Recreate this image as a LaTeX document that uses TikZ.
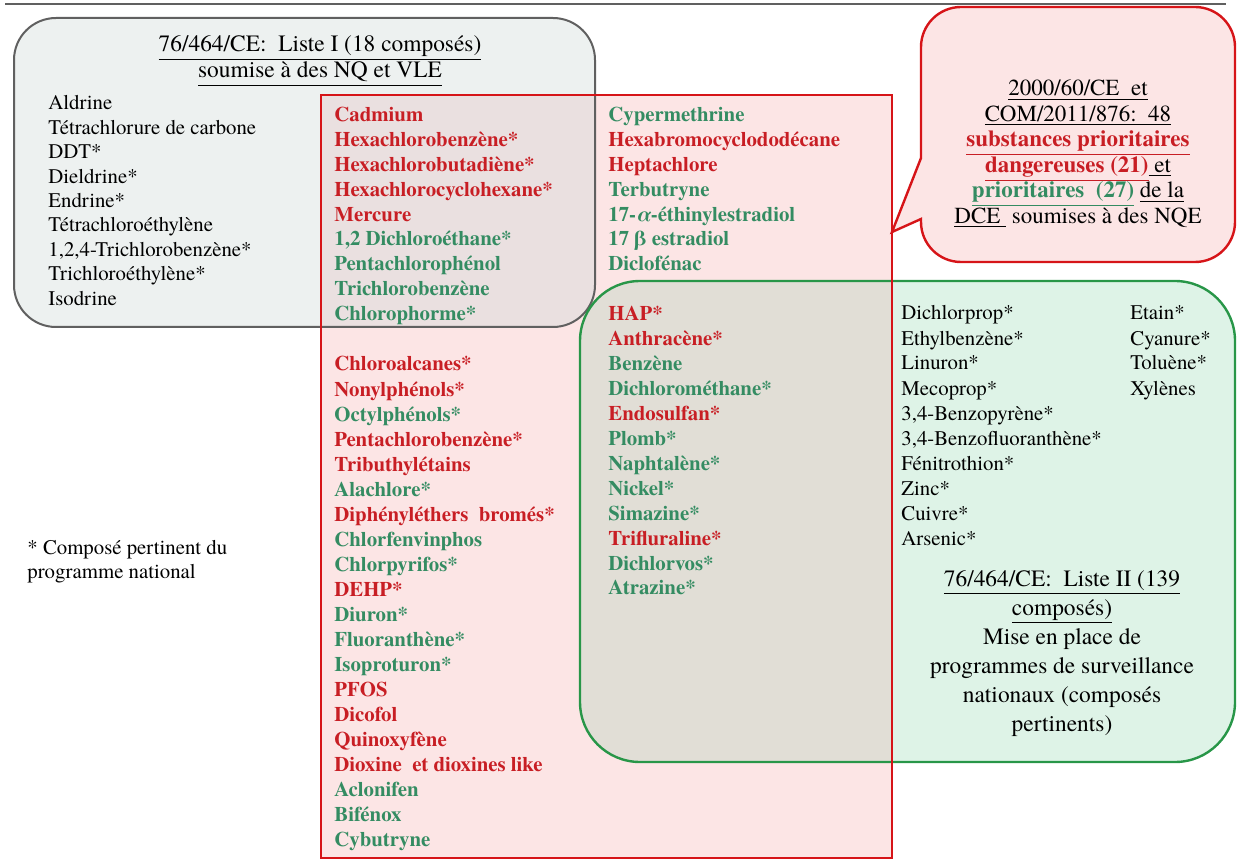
\documentclass[tikz,border=0pt]{standalone}
\usepackage{fontspec}
\setmainfont{texgyretermes}[Extension=.otf, UprightFont=*-regular, BoldFont=*-bold, ItalicFont=*-italic, BoldItalicFont=*-bolditalic]

\definecolor{redtxt}{RGB}{200,30,36}
\definecolor{grntxt}{RGB}{52,140,98}
\definecolor{redline}{RGB}{214,20,24}
\definecolor{grnline}{RGB}{40,150,72}
\definecolor{grayline}{RGB}{96,96,96}
\definecolor{grayfill}{RGB}{237,241,240}
\definecolor{redfill}{RGB}{252,229,229}
\definecolor{grnfill}{RGB}{222,243,231}
\definecolor{grayred}{RGB}{234,224,224}
\definecolor{redgrn}{RGB}{225,222,214}

\tikzset{
  lst/.style={anchor=base west, inner sep=0pt, font=\fontsize{10.4}{12}\selectfont},
  bld/.style={lst, font=\fontsize{10.4}{12}\selectfont\bfseries},
  rtx/.style={bld, text=redtxt},
  gtx/.style={bld, text=grntxt},
  ttl/.style={anchor=base, inner sep=0pt, font=\fontsize{11.7}{14}\selectfont},
  cll/.style={anchor=base, inner sep=0pt, font=\fontsize{11.5}{14}\selectfont},
}

\begin{document}
\begin{tikzpicture}[x=0.5pt, y=-0.5pt]
    \useasboundingbox (0,0) rectangle (1237,861) ;
    \draw [grayline, line width=1pt] (5,4) -- (1226,4) ;

    % fills
    \fill [grayfill, rounded corners=21pt] (14,18) rectangle (595,327) ;
    \fill [grnfill, rounded corners=30pt] (580,281) rectangle (1235,762) ;
    \fill [redfill] (321,95) rectangle (892,858) ;
    \begin{scope}
        \clip (321,95) rectangle (892,858) ;
        \fill [grayred, rounded corners=21pt] (14,18) rectangle (595,327) ;
        \fill [redgrn, rounded corners=30pt] (580,281) rectangle (1235,762) ;
    \end{scope}

    % outlines
    \draw [grayline, line width=1pt, rounded corners=21pt] (14,18) rectangle (595,327) ;
    \draw [grnline, line width=1.2pt, rounded corners=30pt] (580,281) rectangle (1235,762) ;
    \draw [redline, line width=1.2pt] (321,95) rectangle (892,858) ;
    \filldraw [redline, fill=redfill, line width=1.2pt] (921,158) [rounded corners=20pt] -- (921,7) -- (1235,7) -- (1235,262) -- (921,262) [sharp corners] -- (921,219) -- (892,232) -- cycle ;

    % liste I
    \node [ttl] (listeI) at (320,52) {\underline{76/464/CE:\ \ Liste I (18 composés)}} ;
    \node [ttl] (listeIb) at (320,78) {\underline{soumise à des NQ et VLE}} ;
    \foreach \t [count=\i from 0] in {Aldrine, Tétrachlorure de carbone, DDT*, Dieldrine*, Endrine*,
        Tétrachloroéthylène, {1,2,4-Trichlorobenzène*}, Trichloroéthylène*, Isodrine}
        \node [lst] (ald\i) at (48,{110+24.4*\i}) {\t} ;

    % substances prioritaires
    \foreach \s/\t [count=\i from 0] in {rtx/Cadmium, rtx/Hexachlorobenzène*, rtx/Hexachlorobutadiène*,
        rtx/Hexachlorocyclohexane*, rtx/Mercure, gtx/{1,2 Dichloroéthane*}, gtx/Pentachlorophénol,
        gtx/Trichlorobenzène, gtx/Chlorophorme*}
        \node [\s] (cad\i) at (334,{122+24.8*\i}) {\t} ;
    \foreach \s/\t [count=\i from 0] in {rtx/Chloroalcanes*, rtx/Nonylphénols*, gtx/Octylphénols*,
        rtx/Pentachlorobenzène*, rtx/Tributhylétains, gtx/Alachlore*, rtx/Diphényléthers\ \ bromés*,
        gtx/Chlorfenvinphos, gtx/Chlorpyrifos*, rtx/DEHP*, gtx/Diuron*, gtx/Fluoranthène*,
        gtx/Isoproturon*, rtx/PFOS, rtx/Dicofol, rtx/Quinoxyfène, rtx/Dioxine\ \ et dioxines like,
        gtx/Aclonifen, gtx/Bifénox, gtx/Cybutryne}
        \node [\s] (chl\i) at (334,{371+25*\i}) {\t} ;
    \foreach \s/\t [count=\i from 0] in {gtx/Cypermethrine, rtx/Hexabromocyclododécane, rtx/Heptachlore,
        gtx/Terbutryne, gtx/17-{\itshape α}-éthinylestradiol, gtx/17 β estradiol, gtx/Diclofénac}
        \node [\s] (cyp\i) at (608,{122+24.8*\i}) {\t} ;
    \foreach \s/\t [count=\i from 0] in {rtx/HAP*, rtx/Anthracène*, gtx/Benzène, gtx/Dichlorométhane*,
        rtx/Endosulfan*, gtx/Plomb*, gtx/Naphtalène*, gtx/Nickel*, gtx/Simazine*, rtx/Trifluraline*,
        gtx/Dichlorvos*, gtx/Atrazine*}
        \node [\s] (hap\i) at (608,{321+24.9*\i}) {\t} ;

    % liste II
    \foreach \t [count=\i from 0] in {Dichlorprop*, Ethylbenzène*, Linuron*, Mecoprop*, {3,4-Benzopyrène*},
        {3,4-Benzofluoranthène*}, Fénitrothion*, Zinc*, Cuivre*, Arsenic*}
        \node [lst] (dic\i) at (901,{320+25*\i}) {\t} ;
    \foreach \t [count=\i from 0] in {Etain*, Cyanure*, Toluène*, Xylènes}
        \node [lst] (eta\i) at (1130,{320+25*\i}) {\t} ;
    \node [ttl] (listeII) at (1062,586) {\underline{76/464/CE:\ \ Liste II (139}} ;
    \node [ttl] (listeIIb) at (1062,615) {\underline{composés)}} ;
    \node [ttl] (listeIIc) at (1062,644) {Mise en place de} ;
    \node [ttl] (listeIId) at (1062,673) {programmes de surveillance} ;
    \node [ttl] (listeIIe) at (1062,702) {nationaux (composés} ;
    \node [ttl] (listeIIf) at (1062,731) {pertinents)} ;

    % DCE
    \node [cll] (dce) at (1078,96) {\underline{2000/60/CE\ \ et}} ;
    \node [cll] (dceb) at (1078,121.5) {\underline{COM/2011/876:\ \ 48}} ;
    \node [cll, text=redtxt] (dcec) at (1078,147) {\underline{\bfseries substances prioritaires}} ;
    \node [cll] (dced) at (1078,172.5) {\textcolor{redtxt}{\underline{\bfseries dangereuses (21)}}\underline{ et}} ;
    \node [cll] (dcee) at (1078,198) {\textcolor{grntxt}{\underline{\bfseries prioritaires\ \ (27)}} \underline{de la}} ;
    \node [cll] (dcef) at (1078,223.5) {\underline{DCE\ }\ soumises à des NQE} ;

    \node [lst] (note) at (27,554) {* Composé pertinent du} ;
    \node [lst] (noteb) at (27,578) {programme national} ;
\end{tikzpicture}
\end{document}
